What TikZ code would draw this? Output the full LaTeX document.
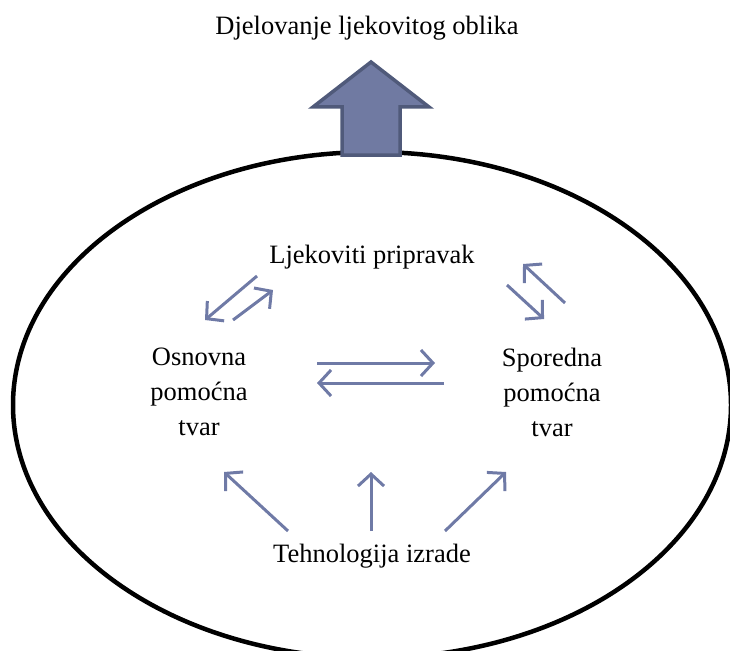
\documentclass[tikz,border=0pt]{standalone}
\usepackage{fontspec}
\setmainfont{Liberation Serif}
\usetikzlibrary{arrows.meta}
\definecolor{arrowblue}{RGB}{111,122,166}
\definecolor{blockfill}{RGB}{112,122,162}
\definecolor{blockedge}{RGB}{80,90,122}
\begin{document}
\begin{tikzpicture}[x=1pt,y=-1pt,
  lbl/.style={font=\fontsize{26.5}{35}\selectfont, align=center, inner sep=0pt},
  flow/.style={draw=arrowblue, line width=3pt, -{Straight Barb[length=12pt,width=26pt]}}]
\useasboundingbox (0,0) rectangle (730,650);
\clip (0,0) rectangle (730,650);
% big ellipse
\draw[line width=4.5pt] (372,405) ellipse [x radius=359, y radius=253];
% block arrow
\draw[fill=blockfill, draw=blockedge, line width=3.5pt, line join=miter]
  (342,155) -- (342,107) -- (313,107) -- (371,62) -- (429,107) -- (400,107) -- (400,155) -- cycle;
% texts
\node[lbl] (top) at (367,28) {Djelovanje ljekovitog oblika};
\node[lbl] (ljek) at (372,257) {Ljekoviti pripravak};
\node[lbl] (osn) at (199,392) {Osnovna\\pomoćna\\tvar};
\node[lbl] (spo) at (552,392) {Sporedna\\pomoćna\\tvar};
\node[lbl] (teh) at (372,556) {Tehnologija izrade};
% arrow end points
\coordinate (a1s) at (257,276); \coordinate (a1e) at (205,320);
\coordinate (a2s) at (233,320); \coordinate (a2e) at (273,290);
\coordinate (b1s) at (565,303); \coordinate (b1e) at (523,264);
\coordinate (b2s) at (507,285); \coordinate (b2e) at (544,319);
\coordinate (c1s) at (317,363); \coordinate (c1e) at (435,363);
\coordinate (c2s) at (444,383); \coordinate (c2e) at (317,383);
\coordinate (d1s) at (288,531); \coordinate (d1e) at (224,472);
\coordinate (d2s) at (371,531); \coordinate (d2e) at (371,472);
\coordinate (d3s) at (445,531); \coordinate (d3e) at (506,472);
\draw[flow] (a1s) -- (a1e);
\draw[flow] (a2s) -- (a2e);
\draw[flow] (b1s) -- (b1e);
\draw[flow] (b2s) -- (b2e);
\draw[flow] (c1s) -- (c1e);
\draw[flow] (c2s) -- (c2e);
\draw[flow] (d1s) -- (d1e);
\draw[flow] (d2s) -- (d2e);
\draw[flow] (d3s) -- (d3e);
\end{tikzpicture}
\end{document}
